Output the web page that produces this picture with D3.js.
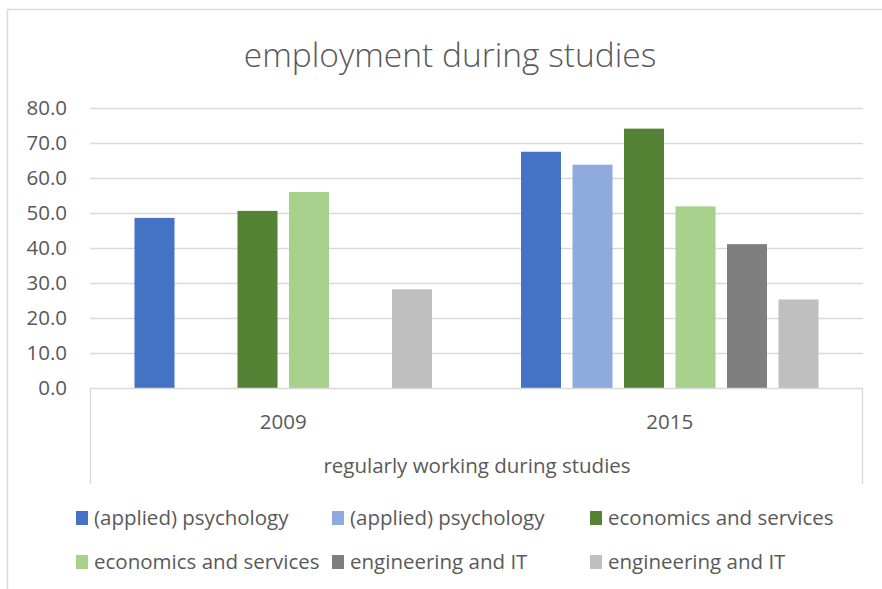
<!DOCTYPE html>
<html><head><meta charset="utf-8">
<script src="https://cdn.jsdelivr.net/npm/d3@7"></script>
<style>html,body{margin:0;padding:0;background:#fff;}svg{display:block;font-family:"Open Sans",sans-serif;}</style>
</head><body><svg id="c" width="882" height="589"></svg>
<script>
const title = "employment during studies";
const categories = ["2009", "2015"];
const groupLabel = "regularly working during studies";
const seriesNames = ["(applied) psychology", "(applied) psychology", "economics and services", "economics and services", "engineering and IT", "engineering and IT"];
const seriesColors = ["#4472C4", "#8FAADC", "#548235", "#A9D18E", "#7F7F7F", "#BFBFBF"];
const values2009 = [48.6, null, 50.6, 56.0, null, 28.2];
const values2015 = [67.5, 63.8, 74.1, 51.9, 41.1, 25.3];
const yTicks = [0, 10, 20, 30, 40, 50, 60, 70, 80];

(function () {
const valuesByCat = [values2009, values2015];
const svg = d3.select("#c");
const txt = "#595959";

// chart border
svg.append("rect").attr("x", 7.5).attr("y", 9.5).attr("width", 900).attr("height", 600)
  .attr("fill", "none").attr("stroke", "#d9d9d9").attr("stroke-width", 1.5);

svg.append("text").attr("x", 450).attr("y", 67).attr("text-anchor", "middle")
  .attr("font-size", 33.5).attr("font-weight", 300).attr("fill", txt).text(title);

const pLeft = 90, pRight = 863, pTop = 108, pBottom = 388;
const x = d3.scaleBand().domain(categories).range([pLeft, pRight]);
const xs = d3.scaleBand().domain(d3.range(seriesNames.length)).range([0, x.bandwidth()])
  .paddingInner(0.223).paddingOuter(0.864);
const y = d3.scaleLinear().domain([0, 80]).range([pBottom, pTop]);

// gridlines
svg.append("g").selectAll("line").data(yTicks.filter(d => d > 0)).join("line")
  .attr("x1", pLeft).attr("x2", pRight).attr("y1", d => y(d) + 0.5).attr("y2", d => y(d) + 0.5)
  .attr("stroke", "#d9d9d9").attr("stroke-width", 1.3);

// y labels
svg.append("g").selectAll("text").data(yTicks).join("text")
  .attr("x", 67).attr("y", d => y(d)).attr("dy", "0.36em").attr("text-anchor", "end")
  .attr("font-size", 20.5).attr("fill", txt).text(d => d.toFixed(1));

// bars
const bars = [];
categories.forEach((c, ci) => valuesByCat[ci].forEach((v, si) => { if (v != null) bars.push({c, si, v}); }));
svg.append("g").selectAll("rect").data(bars).join("rect")
  .attr("x", d => x(d.c) + xs(d.si)).attr("width", xs.bandwidth())
  .attr("y", d => y(d.v)).attr("height", d => y(0) - y(d.v))
  .attr("fill", d => seriesColors[d.si]);

// category axis box
const boxBottom = 484;
svg.append("path").attr("d", `M${pLeft+0.5},${boxBottom}V${pBottom+0.5}H${pRight-0.5}V${boxBottom}`)
  .attr("fill", "none").attr("stroke", "#d9d9d9").attr("stroke-width", 1.3);
svg.append("g").selectAll("text").data(categories).join("text")
  .attr("x", d => x(d) + x.bandwidth() / 2).attr("y", 422).attr("dy", "0.36em").attr("text-anchor", "middle")
  .attr("font-size", 20.5).attr("fill", txt).text(d => d);
svg.append("text").attr("x", 477).attr("y", 466).attr("dy", "0.36em").attr("text-anchor", "middle")
  .attr("font-size", 20.5).attr("fill", txt).text(groupLabel);

// legend
const legX = [76, 332, 590], legY = [518, 562];
const lg = svg.append("g").selectAll("g").data(seriesNames).join("g")
  .attr("transform", (d, i) => `translate(${legX[i % 3]},${legY[Math.floor(i / 3)]})`);
lg.append("rect").attr("x", 0).attr("y", -7).attr("width", 12).attr("height", 14)
  .attr("fill", (d, i) => seriesColors[i]);
lg.append("text").attr("x", 18).attr("y", 0).attr("dy", "0.36em").attr("font-size", 20.5)
  .attr("fill", txt).text(d => d);
})();
</script></body></html>
